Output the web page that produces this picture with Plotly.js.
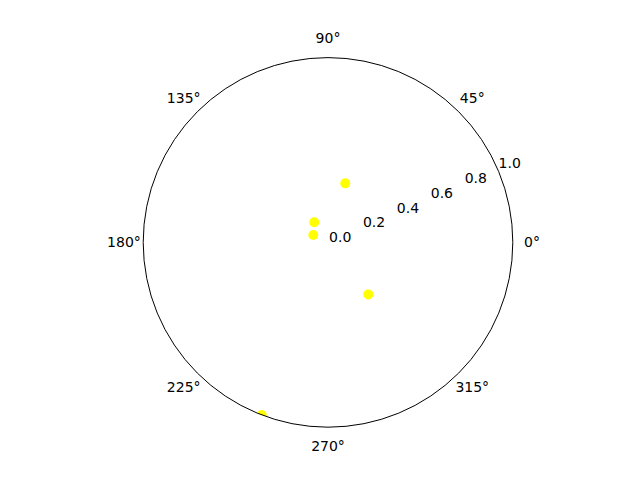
<!DOCTYPE html>
<html>
<head>
<meta charset="utf-8">
<script src="https://cdn.plot.ly/plotly-3.0.1.min.js"></script>
<style>html,body{margin:0;padding:0;background:#fff;}#chart{width:640px;height:480px;}</style>
</head>
<body>
<div id="chart"></div>
<script>
const thetaDeg = [73.7, 124.3, 153.3, 307.8, 249];
const radius = [0.333, 0.132, 0.089, 0.356, 1.0];
const radialTicks = [0, 0.2, 0.4, 0.6, 0.8, 1.0];
const radialTickText = ['0.0', '0.2', '0.4', '0.6', '0.8', '1.0'];
const angularTicks = [0, 45, 90, 135, 180, 225, 270, 315];
const angularTickText = ['0°', '45°', '90°', '135°', '180°', '225°', '270°', '315°'];

// geometry of the main polar area (pixels) — matplotlib default subplot box
const W = 640, H = 480, CX = 328, CY = 237.6, R = 184.8;
const LABEL_MAX = 1.2;            // radial range of the invisible label overlay
const R2 = R * LABEL_MAX;
const LCY = CY - 1.5;             // label overlay nudged to match text baselines

const points = {
  type: 'scatterpolar',
  mode: 'markers',
  r: radius,
  theta: thetaDeg,
  marker: {color: '#ffff00', size: 10},
  cliponaxis: true,
  hoverinfo: 'none',
  subplot: 'polar'
};

// radial tick labels, placed as matplotlib does (just outward of each tick along ~22.5°)
const radialLabels = {
  type: 'scatterpolar',
  mode: 'text',
  r: radialTicks.map(v => v + 0.072),
  theta: radialTicks.map(() => 23.5),
  text: radialTickText,
  textposition: 'middle center',
  textfont: {family: 'DejaVu Sans', size: 14, color: '#000'},
  cliponaxis: false,
  hoverinfo: 'none',
  subplot: 'polar2'
};

// angular tick labels at a fixed distance outside the circle
const angularLabels = {
  type: 'scatterpolar',
  mode: 'text',
  r: angularTicks.map(() => 1.104),
  theta: angularTicks,
  text: angularTickText,
  textposition: 'middle center',
  textfont: {family: 'DejaVu Sans', size: 14, color: '#000'},
  cliponaxis: false,
  hoverinfo: 'none',
  subplot: 'polar2'
};

const hiddenRadial = (range) => ({
  range: range, angle: 22.5, showticklabels: false, showgrid: false, showline: false, ticks: ''
});

const layout = {
  width: W, height: H,
  margin: {l: 0, r: 0, t: 0, b: 0},
  paper_bgcolor: '#fff',
  showlegend: false,
  font: {family: 'DejaVu Sans', size: 14, color: '#000'},
  polar: {
    domain: {x: [(CX - R) / W, (CX + R) / W], y: [(CY - R) / H, (CY + R) / H]},
    bgcolor: '#fff',
    radialaxis: Object.assign(hiddenRadial([0, 1]), {tickvals: radialTicks}),
    angularaxis: {
      rotation: 0,
      direction: 'counterclockwise',
      tickvals: angularTicks,
      showticklabels: false,
      showgrid: false,
      showline: true,
      linecolor: '#000',
      linewidth: 1,
      ticks: ''
    }
  },
  polar2: {
    domain: {x: [(CX - R2) / W, (CX + R2) / W], y: [(LCY - R2) / H, (LCY + R2) / H]},
    bgcolor: 'rgba(0,0,0,0)',
    radialaxis: hiddenRadial([0, LABEL_MAX]),
    angularaxis: {
      rotation: 0, direction: 'counterclockwise',
      showticklabels: false, showgrid: false, showline: false, ticks: ''
    }
  }
};

Plotly.newPlot('chart', [points, radialLabels, angularLabels], layout, {staticPlot: true});
</script>
</body>
</html>
